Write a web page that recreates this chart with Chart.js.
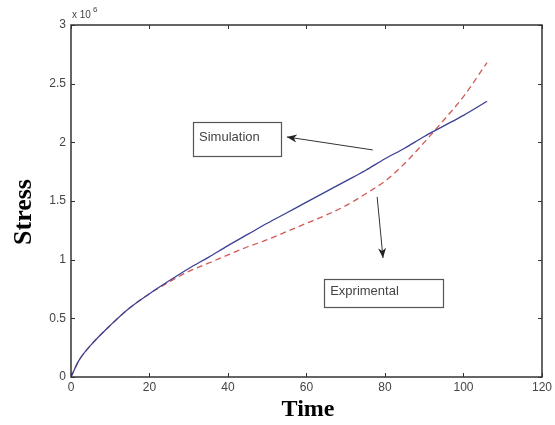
<!DOCTYPE html>
<html>
<head>
<meta charset="utf-8">
<script src="https://cdn.jsdelivr.net/npm/chart.js@4"></script>
<style>
  html, body { margin: 0; padding: 0; background: #fff; }
  #wrap { width: 555px; height: 425px; }
</style>
</head>
<body>
<div id="wrap"><canvas id="grafico"></canvas></div>
<script>
// datos
const tiempo       = [0, 2, 5, 10, 15, 20, 25, 30, 35, 40, 45, 50, 55, 60, 65, 70, 75, 80, 85, 90, 95, 100, 106];
const simulacion   = [0, 0.14, 0.27, 0.44, 0.59, 0.71, 0.82, 0.925, 1.02, 1.12, 1.215, 1.31, 1.40, 1.49, 1.58, 1.67, 1.76, 1.86, 1.95, 2.05, 2.14, 2.23, 2.35];
const experimental = [0, 0.14, 0.27, 0.44, 0.59, 0.71, 0.81, 0.90, 0.97, 1.04, 1.11, 1.17, 1.24, 1.31, 1.38, 1.46, 1.56, 1.67, 1.82, 2.00, 2.19, 2.39, 2.68];
const xTicks = [0, 20, 40, 60, 80, 100, 120];
const yTicks = [0, 0.5, 1, 1.5, 2, 2.5, 3];

// etiquetas con flecha (en unidades de datos)
const notas = [
  { texto: 'Simulation',  caja: [31.1, 2.17, 53.5, 1.88], flecha: [76.9, 1.935, 55.0, 2.046] },
  { texto: 'Exprimental', caja: [64.5, 0.835, 94.8, 0.597], flecha: [78.0, 1.535, 79.5, 1.014] }
];

const ejesMatlab = {
  id: 'ejesMatlab',
  afterDraw(chart) {
    const { ctx, chartArea: a, scales: { x, y } } = chart;
    ctx.save();
    // marco
    ctx.strokeStyle = '#333';
    ctx.lineWidth = 1.5;
    ctx.strokeRect(a.left, a.top, a.right - a.left, a.bottom - a.top);
    // ticks hacia dentro
    ctx.lineWidth = 1;
    ctx.beginPath();
    xTicks.forEach(v => {
      const px = Math.round(x.getPixelForValue(v)) + 0.5;
      ctx.moveTo(px, a.bottom); ctx.lineTo(px, a.bottom - 4);
      ctx.moveTo(px, a.top);    ctx.lineTo(px, a.top + 4);
    });
    yTicks.forEach(v => {
      const py = Math.round(y.getPixelForValue(v)) + 0.5;
      ctx.moveTo(a.left, py);  ctx.lineTo(a.left + 4, py);
      ctx.moveTo(a.right, py); ctx.lineTo(a.right - 4, py);
    });
    ctx.stroke();
    // exponente
    ctx.fillStyle = '#444';
    ctx.font = '10px "Liberation Sans", Arial, sans-serif';
    ctx.textAlign = 'left';
    ctx.textBaseline = 'alphabetic';
    ctx.fillText('x 10', a.left + 1, a.top - 7);
    ctx.font = '8px "Liberation Sans", Arial, sans-serif';
    ctx.fillText('6', a.left + 22, a.top - 13);
    // titulos de ejes
    ctx.fillStyle = '#000';
    ctx.font = 'bold 24px "Liberation Serif", "Times New Roman", serif';
    ctx.textAlign = 'center';
    ctx.textBaseline = 'middle';
    ctx.fillText('Time', 308, 410);
    ctx.save();
    ctx.translate(24, 212);
    ctx.rotate(-Math.PI / 2);
    ctx.font = 'bold 26px "Liberation Serif", "Times New Roman", serif';
    ctx.fillText('Stress', 0, 0);
    ctx.restore();
    // notas
    notas.forEach(n => {
      const x0 = x.getPixelForValue(n.caja[0]), y0 = y.getPixelForValue(n.caja[1]);
      const x1 = x.getPixelForValue(n.caja[2]), y1 = y.getPixelForValue(n.caja[3]);
      ctx.strokeStyle = '#555';
      ctx.lineWidth = 1.2;
      ctx.strokeRect(Math.round(x0) + 0.5, Math.round(y0) + 0.5, Math.round(x1 - x0), Math.round(y1 - y0));
      ctx.fillStyle = '#444';
      ctx.font = '13px "Liberation Sans", Arial, sans-serif';
      ctx.textAlign = 'left';
      ctx.textBaseline = 'middle';
      ctx.fillText(n.texto, x0 + 6, (y0 + y1) / 2 - 2);
      // flecha
      const tx = x.getPixelForValue(n.flecha[0]), ty = y.getPixelForValue(n.flecha[1]);
      const hx = x.getPixelForValue(n.flecha[2]), hy = y.getPixelForValue(n.flecha[3]);
      ctx.strokeStyle = '#333';
      ctx.lineWidth = 1;
      ctx.beginPath(); ctx.moveTo(tx, ty); ctx.lineTo(hx, hy); ctx.stroke();
      const ang = Math.atan2(hy - ty, hx - tx);
      ctx.fillStyle = '#222';
      ctx.beginPath();
      ctx.moveTo(hx, hy);
      ctx.lineTo(hx - 10 * Math.cos(ang) + 4 * Math.sin(ang), hy - 10 * Math.sin(ang) - 4 * Math.cos(ang));
      ctx.lineTo(hx - 7 * Math.cos(ang), hy - 7 * Math.sin(ang));
      ctx.lineTo(hx - 10 * Math.cos(ang) - 4 * Math.sin(ang), hy - 10 * Math.sin(ang) + 4 * Math.cos(ang));
      ctx.closePath();
      ctx.fill();
    });
    ctx.restore();
  }
};

const tickFont = { family: '"Liberation Sans", Arial, sans-serif', size: 12 };

new Chart(document.getElementById('grafico'), {
  type: 'line',
  data: {
    datasets: [
      {
        label: 'Simulation',
        data: tiempo.map((t, i) => ({ x: t, y: simulacion[i] })),
        borderColor: '#3b3f95',
        borderWidth: 1.3,
        pointRadius: 0,
        cubicInterpolationMode: 'monotone',
        fill: false
      },
      {
        label: 'Exprimental',
        data: tiempo.map((t, i) => ({ x: t, y: experimental[i] })),
        borderColor: '#cf5a55',
        borderWidth: 1.3,
        borderDash: [6, 4],
        pointRadius: 0,
        cubicInterpolationMode: 'monotone',
        fill: false
      }
    ]
  },
  options: {
    responsive: true,
    maintainAspectRatio: false,
    animation: false,
    layout: { padding: { left: 0, top: 25, right: 13, bottom: 0 } },
    plugins: { legend: { display: false }, tooltip: { enabled: false } },
    scales: {
      x: {
        type: 'linear',
        min: 0, max: 120,
        afterBuildTicks: s => { s.ticks = xTicks.map(v => ({ value: v })); },
        afterFit: s => { s.height = 48; },
        grid: { display: false, drawTicks: false, tickLength: 0 },
        border: { display: false },
        ticks: { color: '#444', font: tickFont, padding: 3, maxRotation: 0 }
      },
      y: {
        type: 'linear',
        min: 0, max: 3,
        afterBuildTicks: s => { s.ticks = yTicks.map(v => ({ value: v })); },
        afterFit: s => { s.width = 71; },
        grid: { display: false, drawTicks: false, tickLength: 0 },
        border: { display: false },
        ticks: { color: '#444', font: tickFont, padding: 5, callback: v => String(v) }
      }
    }
  },
  plugins: [ejesMatlab]
});
</script>
</body>
</html>
